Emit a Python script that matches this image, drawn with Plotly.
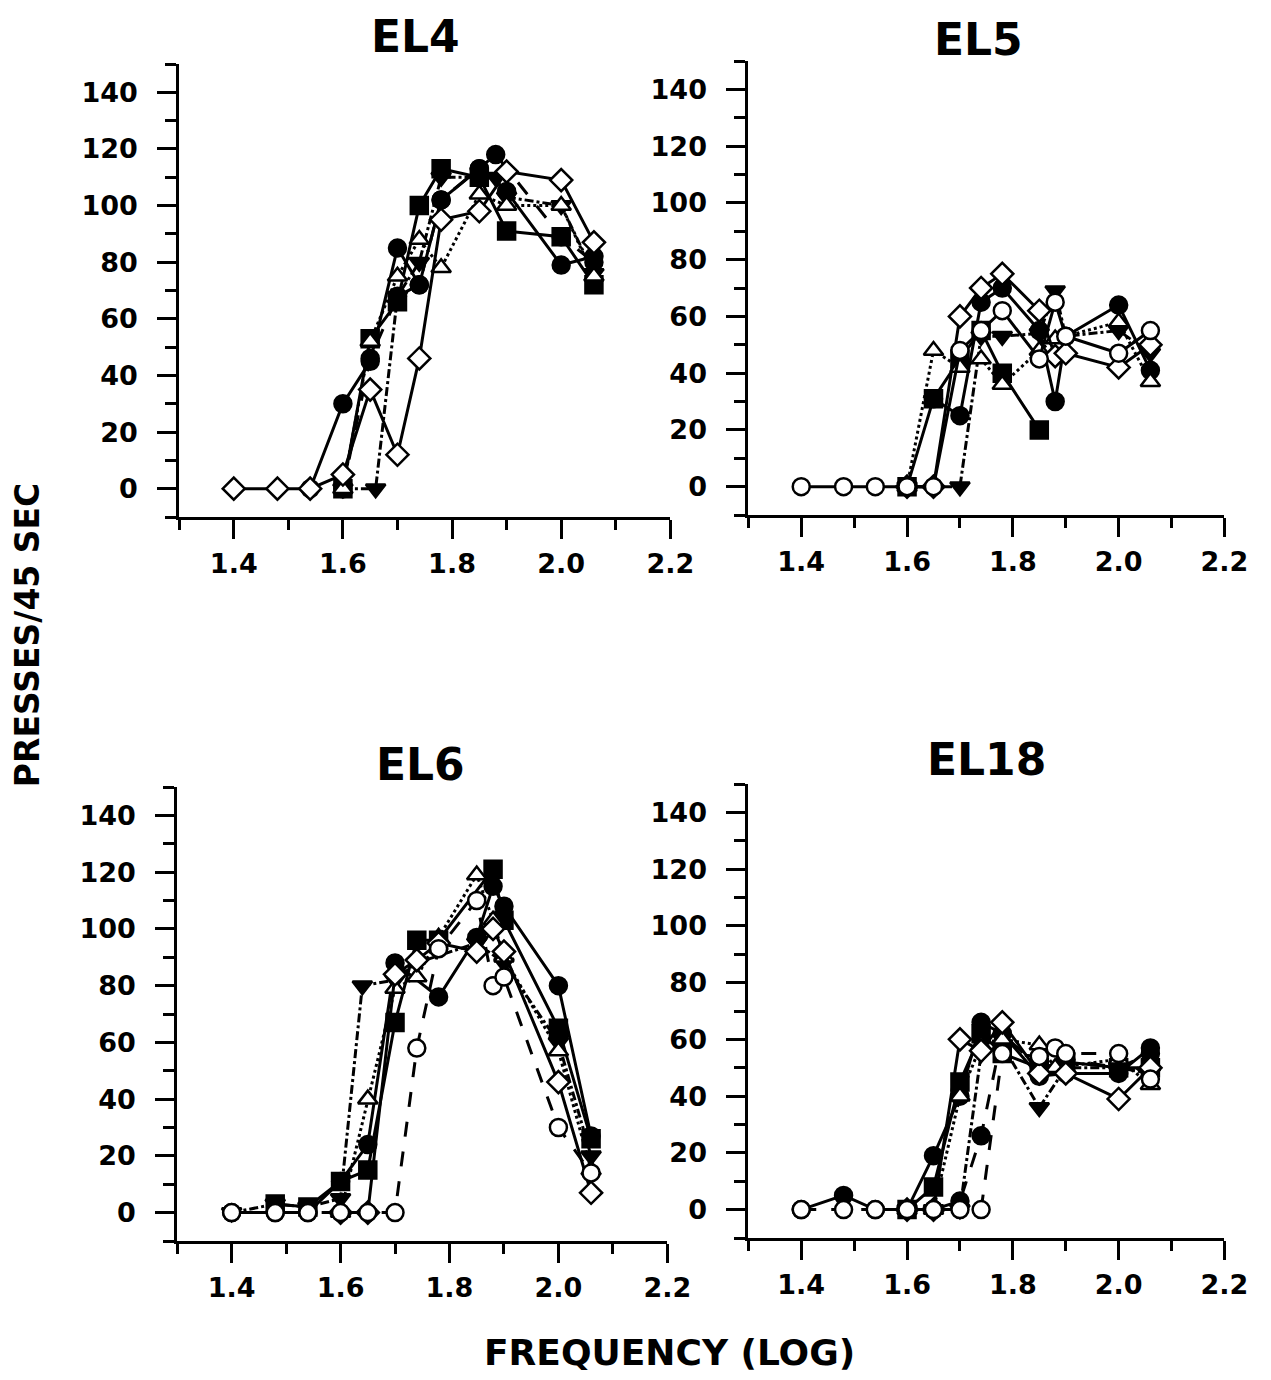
import plotly.graph_objects as go

# ---------------- data (log frequency vs presses/45 sec) ----------------
# EL4
EL4_CIRC_X = [1.54, 1.60, 1.65, 1.70, 1.74, 1.78, 1.85, 1.90, 2.00, 2.06]
EL4_CIRC_Y = [0, 30, 45, 85, 72, 102, 113, 105, 79, 82]
EL4_SQ_X = [1.60, 1.65, 1.70, 1.74, 1.78, 1.85, 1.90, 2.00, 2.06]
EL4_SQ_Y = [0, 53, 66, 100, 113, 110, 91, 89, 72]
EL4_TRID_X = [1.60, 1.66, 1.70, 1.74, 1.78, 1.88, 1.90, 2.00, 2.06]
EL4_TRID_Y = [0, 0, 68, 80, 110, 110, 103, 100, 76]
EL4_TRIU_X = [1.60, 1.65, 1.70, 1.74, 1.78, 1.85, 1.90, 2.00, 2.06]
EL4_TRIU_Y = [0, 52, 75, 88, 78, 104, 100, 100, 75]
EL4_DIAM_X = [1.40, 1.48, 1.54, 1.60, 1.65, 1.70, 1.74, 1.78, 1.85, 1.90, 2.00, 2.06]
EL4_DIAM_Y = [0, 0, 0, 5, 35, 12, 46, 95, 98, 112, 109, 87]
EL4_CIRC2_X = [1.60, 1.65, 1.70, 1.74, 1.78, 1.85, 1.88, 2.00, 2.06]
EL4_CIRC2_Y = [0, 46, 68, 72, 102, 113, 118, 89, 80]

# EL5
EL5_CIRC_X = [1.65, 1.70, 1.74, 1.78, 1.85, 1.88, 1.90, 2.00, 2.06]
EL5_CIRC_Y = [31, 25, 65, 70, 55, 30, 53, 64, 41]
EL5_SQ_X = [1.60, 1.65, 1.70, 1.74, 1.78, 1.85]
EL5_SQ_Y = [0, 31, 45, 55, 40, 20]
EL5_TRID_X = [1.60, 1.70, 1.74, 1.78, 1.85, 1.88, 1.90, 2.00, 2.06]
EL5_TRID_Y = [0, 0, 53, 53, 54, 69, 53, 55, 47]
EL5_TRIU_X = [1.60, 1.65, 1.70, 1.74, 1.78, 1.85, 1.88, 2.00, 2.06]
EL5_TRIU_Y = [0, 48, 42, 45, 36, 48, 52, 58, 37]
EL5_DIAM_X = [1.60, 1.65, 1.70, 1.74, 1.78, 1.85, 1.88, 1.90, 2.00, 2.06]
EL5_DIAM_Y = [0, 0, 60, 70, 75, 62, 46, 47, 42, 50]
EL5_OCIRC_X = [1.40, 1.48, 1.54, 1.60, 1.65, 1.70, 1.74, 1.78, 1.85, 1.88, 1.90, 2.00, 2.06]
EL5_OCIRC_Y = [0, 0, 0, 0, 0, 48, 55, 62, 45, 65, 53, 47, 55]

# EL6
EL6_CIRC_X = [1.40, 1.48, 1.54, 1.60, 1.65, 1.70, 1.78, 1.85, 1.88, 1.90, 2.00, 2.06]
EL6_CIRC_Y = [0, 0, 0, 11, 24, 88, 76, 97, 115, 108, 80, 27]
EL6_SQ_X = [1.48, 1.54, 1.60, 1.65, 1.70, 1.74, 1.78, 1.88, 1.90, 2.00, 2.06]
EL6_SQ_Y = [3, 2, 11, 15, 67, 96, 96, 121, 103, 65, 26]
EL6_TRID_X = [1.40, 1.48, 1.54, 1.60, 1.64, 1.70, 1.74, 1.85, 1.90, 2.00, 2.06]
EL6_TRID_Y = [0, 3, 2, 5, 80, 82, 88, 95, 88, 60, 20]
EL6_TRIU_X = [1.60, 1.65, 1.70, 1.74, 1.78, 1.85, 1.88, 1.90, 2.00, 2.06]
EL6_TRIU_Y = [0, 40, 79, 83, 97, 119, 103, 90, 57, 15]
EL6_DIAM_X = [1.60, 1.65, 1.70, 1.74, 1.78, 1.85, 1.88, 1.90, 2.00, 2.06]
EL6_DIAM_Y = [0, 0, 84, 89, 95, 92, 100, 92, 46, 7]
EL6_OCIRC_X = [1.40, 1.48, 1.54, 1.60, 1.65, 1.70, 1.74, 1.78, 1.85, 1.88, 1.90, 2.00, 2.06]
EL6_OCIRC_Y = [0, 0, 0, 0, 0, 0, 58, 93, 110, 80, 83, 30, 14]

# EL18
EL18_CIRC_X = [1.40, 1.48, 1.54, 1.60, 1.65, 1.70, 1.74, 1.78, 1.85, 1.90, 2.00, 2.06]
EL18_CIRC_Y = [0, 5, 0, 0, 19, 40, 66, 62, 47, 48, 48, 57]
EL18_SQ_X = [1.60, 1.65, 1.70, 1.74, 1.78, 1.85, 1.90, 2.00, 2.06]
EL18_SQ_Y = [0, 8, 45, 62, 55, 50, 52, 50, 50]
EL18_TRID_X = [1.60, 1.65, 1.70, 1.74, 1.78, 1.85, 1.90, 2.00, 2.06]
EL18_TRID_Y = [0, 0, 0, 55, 58, 36, 50, 50, 48]
EL18_TRIU_X = [1.60, 1.65, 1.70, 1.74, 1.78, 1.85, 1.88, 2.00, 2.06]
EL18_TRIU_Y = [0, 0, 40, 58, 60, 58, 50, 53, 44]
EL18_DIAM_X = [1.60, 1.65, 1.70, 1.74, 1.78, 1.85, 1.90, 2.00, 2.06]
EL18_DIAM_Y = [0, 0, 60, 56, 66, 48, 48, 39, 50]
EL18_CIRC2_X = [1.60, 1.65, 1.70, 1.74, 1.78, 1.85, 1.90, 2.00, 2.06]
EL18_CIRC2_Y = [0, 0, 3, 26, 62, 50, 53, 50, 55]
EL18_OCIRC_X = [1.40, 1.48, 1.54, 1.60, 1.65, 1.70, 1.74, 1.78, 1.85, 1.88, 1.90, 2.00, 2.06]
EL18_OCIRC_Y = [0, 0, 0, 0, 0, 0, 0, 55, 54, 57, 55, 55, 46]

PANEL_TITLES = ["EL4", "EL5", "EL6", "EL18"]
X_TICKS = [1.4, 1.6, 1.8, 2.0, 2.2]
X_TICK_TEXT = ["1.4", "1.6", "1.8", "2.0", "2.2"]
Y_TICKS = [0, 20, 40, 60, 80, 100, 120, 140]
Y_TICK_TEXT = ["0", "20", "40", "60", "80", "100", "120", "140"]

# ---------------- styles ----------------
STYLES = {
    "circ":    dict(symbol="circle", fill="black", dash="solid"),
    "circ2":   dict(symbol="circle", fill="black", dash="longdash"),
    "sq":      dict(symbol="square", fill="black", dash="solid"),
    "trid":    dict(symbol="triangle-down", fill="black", dash="dashdot"),
    "triu":    dict(symbol="triangle-up", fill="white", dash="dot"),
    "diam":    dict(symbol="diamond", fill="white", dash="solid"),
    "ocirc":   dict(symbol="circle", fill="white", dash="longdash"),
    "ocirc_s": dict(symbol="circle", fill="white", dash="solid"),
}

PANELS = [
    [("circ", EL4_CIRC_X, EL4_CIRC_Y), ("circ2", EL4_CIRC2_X, EL4_CIRC2_Y),
     ("sq", EL4_SQ_X, EL4_SQ_Y), ("trid", EL4_TRID_X, EL4_TRID_Y),
     ("triu", EL4_TRIU_X, EL4_TRIU_Y), ("diam", EL4_DIAM_X, EL4_DIAM_Y)],
    [("circ", EL5_CIRC_X, EL5_CIRC_Y), ("sq", EL5_SQ_X, EL5_SQ_Y),
     ("trid", EL5_TRID_X, EL5_TRID_Y), ("triu", EL5_TRIU_X, EL5_TRIU_Y),
     ("diam", EL5_DIAM_X, EL5_DIAM_Y), ("ocirc_s", EL5_OCIRC_X, EL5_OCIRC_Y)],
    [("circ", EL6_CIRC_X, EL6_CIRC_Y), ("sq", EL6_SQ_X, EL6_SQ_Y),
     ("trid", EL6_TRID_X, EL6_TRID_Y), ("triu", EL6_TRIU_X, EL6_TRIU_Y),
     ("diam", EL6_DIAM_X, EL6_DIAM_Y), ("ocirc", EL6_OCIRC_X, EL6_OCIRC_Y)],
    [("circ", EL18_CIRC_X, EL18_CIRC_Y), ("circ2", EL18_CIRC2_X, EL18_CIRC2_Y),
     ("sq", EL18_SQ_X, EL18_SQ_Y), ("trid", EL18_TRID_X, EL18_TRID_Y),
     ("triu", EL18_TRIU_X, EL18_TRIU_Y), ("diam", EL18_DIAM_X, EL18_DIAM_Y),
     ("ocirc", EL18_OCIRC_X, EL18_OCIRC_Y)],
]

# page offset (body margin) and observed horizontal scale of the capture
OFF = 8
SX = 0.981
W, H = 1280, 1364
# panel plot areas in target pixels: (left, right, top, bottom)
AREAS = [(179, 670, 64, 517), (748, 1224, 61, 515),
         (177, 667, 787, 1241), (748, 1224, 784, 1238)]
TITLE_POS = [(415, 37), (978, 40), (420, 765), (986, 760)]


def fx(px):
    return (px / SX - OFF) / W


def fy(py):
    return 1 - (py - OFF) / H


FONT = "DejaVu Sans, Liberation Sans, sans-serif"

fig = go.Figure()

for i, (series, area) in enumerate(zip(PANELS, AREAS)):
    xa = "x" if i == 0 else f"x{i+1}"
    ya = "y" if i == 0 else f"y{i+1}"
    for key, xs, ys in series:
        st = STYLES[key]
        fig.add_trace(go.Scatter(
            x=xs, y=ys, xaxis=xa, yaxis=ya, mode="lines+markers",
            line=dict(color="black", width=3, dash=st["dash"]),
            marker=dict(symbol=st["symbol"], size=17, color=st["fill"],
                        line=dict(color="black", width=2.5)),
            showlegend=False, hoverinfo="skip"))
    l, r, t, b = area
    axis_common = dict(showgrid=False, zeroline=False, showline=True,
                       linecolor="black", linewidth=3, ticks="outside",
                       tickcolor="black", tickwidth=2.5, ticklen=19,
                       tickfont=dict(family=FONT, size=27, color="black",
                                     weight="bold"))
    xname = "xaxis" if i == 0 else f"xaxis{i+1}"
    yname = "yaxis" if i == 0 else f"yaxis{i+1}"
    fig.update_layout(**{
        xname: dict(axis_common, domain=[fx(l), fx(r)], range=[1.3, 2.2],
                    tickvals=X_TICKS, ticktext=X_TICK_TEXT, anchor=ya,
                    ticklabelstandoff=2,
                    minor=dict(dtick=0.1, tick0=1.3, ticks="outside",
                               ticklen=10, tickcolor="black", tickwidth=2.5)),
        yname: dict(axis_common, domain=[fy(b), fy(t)],
                    range=[-10, 150], tickvals=Y_TICKS, ticktext=Y_TICK_TEXT,
                    anchor=xa, ticklabelstandoff=14,
                    minor=dict(dtick=10, tick0=0, ticks="outside",
                               ticklen=11, tickcolor="black", tickwidth=2.5)),
    })

annotations = []
for text, (px, py) in zip(PANEL_TITLES, TITLE_POS):
    annotations.append(dict(text=text, x=fx(px), y=fy(py),
                            xref="paper", yref="paper", showarrow=False,
                            xanchor="center", yanchor="middle", borderpad=0,
                            font=dict(family=FONT, size=44, color="black",
                                      weight="bold")))
annotations.append(dict(text="PRESSES/45 SEC", x=fx(27), y=fy(635),
                        xref="paper", yref="paper", showarrow=False,
                        textangle=-90, xanchor="center", yanchor="middle",
                        font=dict(family=FONT, size=33, color="black",
                                  weight="bold")))
annotations.append(dict(text="FREQUENCY (LOG)", x=fx(669), y=fy(1352),
                        xref="paper", yref="paper", showarrow=False,
                        xanchor="center", yanchor="middle",
                        font=dict(family=FONT, size=36, color="black",
                                  weight="bold")))

fig.update_layout(width=W, height=H, autosize=False,
                  margin=dict(l=0, r=0, t=0, b=0),
                  paper_bgcolor="white", plot_bgcolor="white",
                  annotations=annotations)

fig.write_html("out.html")
